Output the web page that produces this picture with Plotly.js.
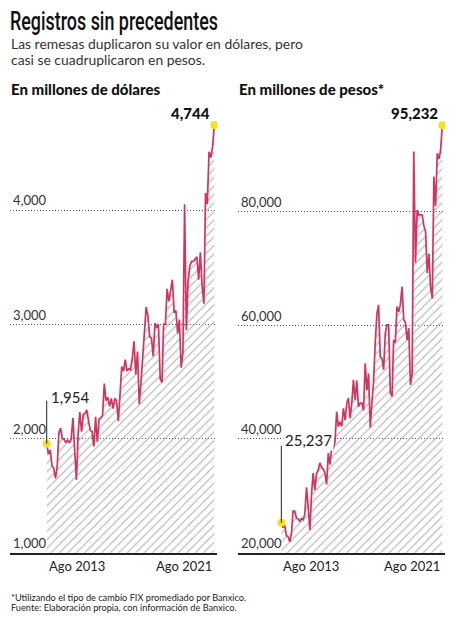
<!DOCTYPE html>
<html><head><meta charset="utf-8">
<script src="https://cdn.plot.ly/plotly-3.0.1.min.js"></script>
<style>html,body{margin:0;padding:0;background:#fff}#chart{width:458px;height:620px}</style>
</head><body><div id="chart"></div>
<script>
// Monthly series, Aug 2013 - Aug 2021
const startYear = 2013, startMonth = 8;
const usd = [1954,1860,1900,1760,1740,1650,1760,2050,2090,2000,1990,1960,1990,1960,1990,2180,1900,1637,2050,2230,
  2060,2210,2220,2250,2150,2070,2060,1930,2190,1970,2170,2180,2200,2480,2330,2360,2280,2350,2260,2350,
  2330,2150,2400,2630,2590,2690,2590,2610,2600,2700,2850,2560,2760,2300,2500,2700,2850,3150,3070,2890,
  2880,2720,3010,2970,3000,2520,2490,3000,3000,3310,3200,3300,3390,3100,3120,2920,3040,2620,2750,4050,
  2950,3380,3510,3550,3550,3570,3590,3390,3630,3330,3180,4150,4050,4510,4460,4550,4744];
const mxn = [25237,24400,24800,23000,22800,21900,23400,27300,27300,26100,25900,25500,26000,25800,26800,31500,28000,24000,30500,34000,
  31000,33900,34500,35800,35000,34700,34000,32000,37500,35500,38500,38300,39500,44800,42200,43000,42200,45400,43300,46300,
  47200,43600,46500,50400,46900,50300,45700,46300,46300,45000,53300,48600,51500,42000,46500,49800,56800,62000,63600,54500,
  54200,52200,58600,60100,60100,48100,47500,57400,57000,63300,62400,63600,66800,61000,60500,57400,59500,49500,51500,90600,
  71000,80300,79400,79500,79400,77500,76500,69200,72600,66600,64700,86200,81000,90300,89300,90800,95232];
const yTicksUsd = [1000,2000,3000,4000];
const yTicksMxn = [20000,40000,60000,80000];
const xLabels = ['Ago 2013','Ago 2021'];

const months = usd.map((_, i) => {
  const m = startMonth - 1 + i;
  const y = startYear + Math.floor(m / 12);
  const mm = (m % 12) + 1;
  return y + '-' + String(mm).padStart(2,'0') + '-01';
});
const last = usd.length - 1;

const W = 458, H = 620;
const px = x => x / W, py = y => 1 - y / H;
const fmt = v => v.toLocaleString('en-US');

const LINE = '#d2335f', YEL = '#f7e01c';
const hatch = {shape:'/', fgcolor:'#adadad', bgcolor:'rgba(255,255,255,0)', size:6, solidity:0.17};

const traces = [
  {x: months, y: usd, xaxis:'x', yaxis:'y', mode:'lines', line:{color:LINE, width:1.7},
   fill:'tozeroy', fillcolor:'rgba(0,0,0,0)', fillpattern: hatch, hoverinfo:'skip'},
  {x: [months[0], months[last]], y: [usd[0], usd[last]], xaxis:'x', yaxis:'y', mode:'markers',
   marker:{size:8, color:YEL}},
  {x: months, y: mxn, xaxis:'x2', yaxis:'y2', mode:'lines', line:{color:LINE, width:1.7},
   fill:'tozeroy', fillcolor:'rgba(0,0,0,0)', fillpattern: hatch, hoverinfo:'skip'},
  {x: [months[0], months[last]], y: [mxn[0], mxn[last]], xaxis:'x2', yaxis:'y2', mode:'markers',
   marker:{size:8, color:YEL}}
];

const yax = (ticks, range, anchor) => ({
  domain:[py(552.7), py(110)], range: range, tickmode:'array', tickvals: ticks, tickformat:',d',
  ticklabelposition:'inside top', ticks:'', showgrid:true, griddash:'1px,2px', gridcolor:'#555', gridwidth:1,
  zeroline:false, showline:false, tickfont:{size:13, color:'#333'}, anchor: anchor, fixedrange:true
});
const xax = (dom, range, anchor) => ({
  domain: dom, type:'date', range: range, showgrid:false, showticklabels:false, ticks:'',
  showline:true, linecolor:'#222', linewidth:2, zeroline:false, anchor: anchor, fixedrange:true
});

const layout = {
  width: W, height: H, margin:{l:0, r:0, t:0, b:0},
  paper_bgcolor:'#fff', plot_bgcolor:'#fff', showlegend:false,
  font:{family:'Lato, sans-serif', color:'#222', size:13},
  title:{text:'Registros sin precedentes', xref:'container', yref:'container', x: px(10), xanchor:'left',
         y: py(21), yanchor:'middle', font:{family:'Roboto, sans-serif', size:25, weight:500, color:'#111'}},
  xaxis: xax([px(10), px(217)], ['2011-10-31','2021-09-17'], 'y'),
  yaxis: yax(yTicksUsd, [999, 4876], 'x'),
  xaxis2: xax([px(238), px(445)], ['2011-06-06','2021-09-19'], 'y2'),
  yaxis2: yax(yTicksMxn, [19980, 97899], 'x2'),
  shapes: [
    {type:'line', xref:'x', yref:'y', ysizemode:'pixel', yanchor: usd[0], x0: months[0], x1: months[0],
     y0: 0, y1: 43, line:{color:'#222', width:1}, layer:'above'},
    {type:'line', xref:'x2', yref:'y2', ysizemode:'pixel', yanchor: mxn[0], x0: months[0], x1: months[0],
     y0: 0, y1: 77, line:{color:'#222', width:1}, layer:'above'}
  ],
  annotations: [
    {xref:'paper', yref:'paper', x: px(9), y: py(43.5), xanchor:'left', yanchor:'middle', align:'left', showarrow:false,
     text:'Las remesas duplicaron su valor en dólares, pero', font:{size:13.9, color:'#333'}},
    {xref:'paper', yref:'paper', x: px(9), y: py(59), xanchor:'left', yanchor:'middle', align:'left', showarrow:false,
     text:'casi se cuadruplicaron en pesos.', font:{size:13.9, color:'#333'}},
    {xref:'paper', yref:'paper', x: px(9), y: py(89), xanchor:'left', yanchor:'middle', showarrow:false,
     text:'En millones de dólares', font:{size:15, color:'#111', weight:900}},
    {xref:'paper', yref:'paper', x: px(237), y: py(89), xanchor:'left', yanchor:'middle', showarrow:false,
     text:'En millones de pesos*', font:{size:15, color:'#111', weight:900}},
    // start values
    {xref:'x', yref:'y', x: months[0], y: usd[0], xanchor:'left', yanchor:'middle', xshift:2, yshift:47,
     showarrow:false, text: fmt(usd[0]), font:{size:15, color:'#222'}},
    {xref:'x2', yref:'y2', x: months[0], y: mxn[0], xanchor:'left', yanchor:'middle', xshift:2, yshift:83,
     showarrow:false, text: fmt(mxn[0]), bgcolor:'#fff', font:{size:15, color:'#222'}},
    // end values
    {xref:'x', yref:'y', x: months[last], y: usd[last], xanchor:'right', yanchor:'bottom', xshift:-2, yshift:1,
     showarrow:false, text: fmt(usd[last]), font:{size:15, color:'#111', weight:900}},
    {xref:'x2', yref:'y2', x: months[last], y: mxn[last], xanchor:'right', yanchor:'bottom', xshift:-2, yshift:1,
     showarrow:false, text: fmt(mxn[last]), font:{size:15, color:'#111', weight:900}},
    // x labels
    {xref:'x', yref:'paper', x: months[0], y: py(552.7), xanchor:'left', yanchor:'top', yshift:-3,
     showarrow:false, text: xLabels[0], font:{size:13, color:'#222'}},
    {xref:'x', yref:'paper', x: months[last], y: py(552.7), xanchor:'right', yanchor:'top', yshift:-3,
     showarrow:false, text: xLabels[1], font:{size:13, color:'#222'}},
    {xref:'x2', yref:'paper', x: months[0], y: py(552.7), xanchor:'left', yanchor:'top', yshift:-3,
     showarrow:false, text: xLabels[0], font:{size:13, color:'#222'}},
    {xref:'x2', yref:'paper', x: months[last], y: py(552.7), xanchor:'right', yanchor:'top', yshift:-3,
     showarrow:false, text: xLabels[1], font:{size:13, color:'#222'}},
    // footnotes
    {xref:'paper', yref:'paper', x: px(9), y: py(597), xanchor:'left', yanchor:'middle', showarrow:false,
     text:'*Utilizando el tipo de cambio FIX promediado por Banxico.', font:{size:9.2, color:'#222'}},
    {xref:'paper', yref:'paper', x: px(9), y: py(607.5), xanchor:'left', yanchor:'middle', showarrow:false,
     text:'Fuente: Elaboración propia, con información de Banxico.', font:{size:9.2, color:'#222'}}
  ]
};

Plotly.newPlot('chart', traces, layout, {staticPlot:true, displayModeBar:false}).then(gd => {
  // condense the headline to the narrow width of the original typeface
  const t = gd.querySelector('.gtitle');
  if (t) {
    t.setAttribute('textLength', '208');
    t.setAttribute('lengthAdjust', 'spacingAndGlyphs');
  }
});
</script>
</body></html>
